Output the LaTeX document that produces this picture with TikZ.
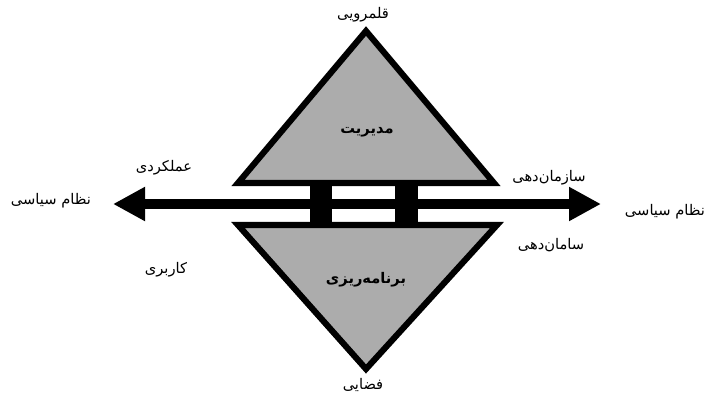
\documentclass[tikz,border=0pt]{standalone}
\usepackage{fontspec}
\usetikzlibrary{arrows.meta}
\TeXXeTstate=1
\newfontfamily\arabicfont[Script=Arabic]{DejaVu Sans}
\definecolor{trifill}{RGB}{172,172,172}
\tikzset{
  tri/.style={draw=black, line width=4.6pt, fill=trifill, line join=miter},
  blockbar/.style={fill=black, draw=none},
  shaft/.style={line width=7.2pt, -{Triangle[length=24pt,width=24pt]}},
  lbl/.style={font=\arabicfont\fontsize{11}{13}\selectfont, inner sep=0pt},
  inlbl/.style={font=\arabicfont\bfseries\fontsize{11}{13}\selectfont, inner sep=0pt}
}
\begin{document}
\begin{tikzpicture}[x=0.75pt,y=-0.75pt]
\useasboundingbox (0,0) rectangle (707,397);
% triangles
\draw[tri] (366,31) -- (494,183) -- (238,183) -- cycle;
\draw[tri] (238,225) -- (497,225) -- (366,369) -- cycle;
% white channel between triangles
\fill[white] (225,189.5) rectangle (510,219.5);
% arrows
\coordinate (mid) at (366,204);
\coordinate (ltip) at (113,204);
\coordinate (rtip) at (601,204);
\draw[shaft] (mid) -- (ltip);
\draw[shaft] (mid) -- (rtip);
% blocks
\fill[blockbar] (310,185) rectangle (332,224);
\fill[blockbar] (395,185) rectangle (418,224);
% labels
\node[lbl] (top) at (363,15) {\beginR قلمرویی\endR};
\node[lbl] (bot) at (363,385) {\beginR فضایی\endR};
\node[inlbl] (mod) at (367,132) {\beginR مدیریت\endR};
\node[inlbl] (bar) at (366,280) {\beginR برنامه‌ریزی\endR};
\node[lbl] (aml) at (164,168) {\beginR عملکردی\endR};
\node[lbl] (kar) at (166,270) {\beginR کاربری\endR};
\node[lbl] (nl) at (51,201) {\beginR نظام سیاسی\endR};
\node[lbl] (nr) at (665,212) {\beginR نظام سیاسی\endR};
\node[lbl] (saz) at (549,178) {\beginR سازمان‌دهی\endR};
\node[lbl] (sam) at (551,245) {\beginR سامان‌دهی\endR};
\end{tikzpicture}
\end{document}
